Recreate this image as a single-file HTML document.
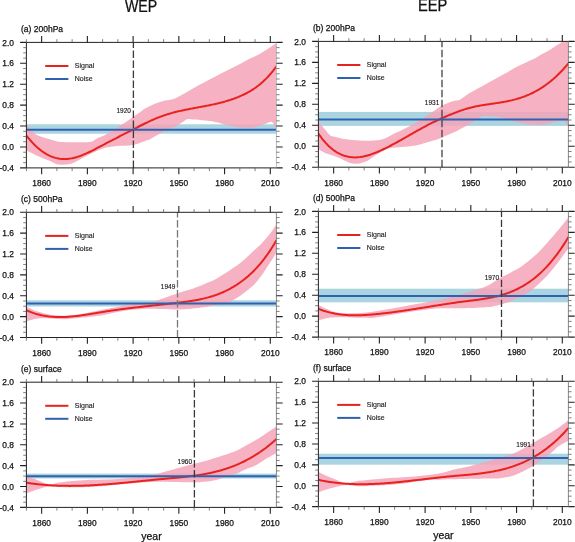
<!DOCTYPE html><html><head><meta charset="utf-8"><style>html,body{margin:0;padding:0;background:#fff;width:575px;height:542px;overflow:hidden}svg{display:block;will-change:transform}text{font-family:"Liberation Sans",sans-serif;stroke:#111;stroke-width:0.25px}</style></head><body>
<svg width="575" height="542" viewBox="0 0 575 542">
<rect x="0" y="0" width="575" height="542" fill="#fff"/>
<text x="0" y="0" font-size="15.7" fill="#111" transform="translate(125.00,11.70) scale(0.902,1)">WEP</text>
<text x="0" y="0" font-size="15.7" fill="#111" transform="translate(417.90,11.00) scale(0.935,1)">EEP</text>
<clipPath id="c0"><rect x="26.40" y="42.40" width="250.00" height="125.50"/></clipPath>
<g clip-path="url(#c0)">
<rect x="26.40" y="124.30" width="250.00" height="9.40" fill="#aad5e0"/>
<path d="M26.40,124.40 C26.92,124.95 28.52,126.58 29.50,127.70 C30.48,128.82 31.37,130.05 32.30,131.10 C33.23,132.15 33.72,133.08 35.10,134.00 C36.48,134.92 38.77,135.88 40.60,136.60 C42.43,137.32 43.87,137.65 46.10,138.30 C48.33,138.95 51.35,139.87 54.00,140.50 C56.65,141.13 57.67,141.82 62.00,142.10 C66.33,142.38 75.17,142.27 80.00,142.20 C84.83,142.13 88.33,142.23 91.00,141.70 C93.67,141.17 94.33,139.82 96.00,139.00 C97.67,138.18 99.33,137.57 101.00,136.80 C102.67,136.03 104.33,135.23 106.00,134.40 C107.67,133.57 109.33,132.73 111.00,131.80 C112.67,130.87 114.50,129.78 116.00,128.80 C117.50,127.82 118.50,126.93 120.00,125.90 C121.50,124.87 123.33,123.70 125.00,122.60 C126.67,121.50 128.62,120.27 130.00,119.30 C131.38,118.33 131.63,117.97 133.30,116.80 C134.97,115.63 138.05,113.67 140.00,112.30 C141.95,110.93 143.33,109.65 145.00,108.60 C146.67,107.55 148.33,106.82 150.00,106.00 C151.67,105.18 153.33,104.37 155.00,103.70 C156.67,103.03 158.33,102.52 160.00,102.00 C161.67,101.48 163.33,100.98 165.00,100.60 C166.67,100.22 168.33,100.07 170.00,99.70 C171.67,99.33 173.72,98.87 175.00,98.40 C176.28,97.93 176.87,97.32 177.70,96.90 C178.53,96.48 177.95,97.02 180.00,95.90 C182.05,94.78 186.67,92.08 190.00,90.20 C193.33,88.32 196.67,86.42 200.00,84.60 C203.33,82.78 206.67,81.07 210.00,79.30 C213.33,77.53 216.67,75.72 220.00,74.00 C223.33,72.28 226.67,70.67 230.00,69.00 C233.33,67.33 236.67,65.73 240.00,64.00 C243.33,62.27 246.67,60.30 250.00,58.60 C253.33,56.90 257.00,55.43 260.00,53.80 C263.00,52.17 265.25,50.58 268.00,48.80 C270.75,47.02 275.00,44.10 276.50,43.10 C278.00,42.10 276.92,42.85 277.00,42.80 L277.00,130.00 C276.80,129.72 276.47,129.45 275.80,128.30 C275.13,127.15 273.87,124.20 273.00,123.10 C272.13,122.00 272.17,121.45 270.60,121.70 C269.03,121.95 266.33,123.65 263.60,124.60 C260.87,125.55 257.33,126.87 254.20,127.40 C251.07,127.93 247.93,127.88 244.80,127.80 C241.67,127.72 238.53,127.37 235.40,126.90 C232.27,126.43 228.90,125.72 226.00,125.00 C223.10,124.28 220.67,123.27 218.00,122.60 C215.33,121.93 213.00,121.43 210.00,121.00 C207.00,120.57 202.75,120.25 200.00,120.00 C197.25,119.75 195.45,119.65 193.50,119.50 C191.55,119.35 189.62,119.02 188.30,119.10 C186.98,119.18 186.92,119.25 185.60,120.00 C184.28,120.75 182.13,122.47 180.40,123.60 C178.67,124.73 176.93,125.97 175.20,126.80 C173.47,127.63 172.20,127.68 170.00,128.60 C167.80,129.52 165.33,130.52 162.00,132.30 C158.67,134.08 152.60,137.95 150.00,139.30 C147.40,140.65 149.22,139.47 146.40,140.40 C143.58,141.33 138.02,143.95 133.10,144.90 C128.18,145.85 122.07,145.45 116.90,146.10 C111.73,146.75 107.58,146.95 102.10,148.80 C96.62,150.65 89.18,154.72 84.00,157.20 C78.82,159.68 75.27,162.48 71.00,163.70 C66.73,164.92 61.90,164.97 58.40,164.50 C54.90,164.03 53.07,162.15 50.00,160.90 C46.93,159.65 43.93,158.73 40.00,157.00 C36.07,155.27 28.67,151.58 26.40,150.50 Z" fill="#f4a5b8" fill-opacity="0.85"/>
<path d="M26.40,135.50 L27.40,136.78 L28.40,138.02 L29.40,139.23 L30.40,140.40 L31.40,141.53 L32.40,142.62 L33.40,143.67 L34.40,144.69 L35.40,145.67 L36.40,146.61 L37.40,147.52 L38.40,148.39 L39.40,149.22 L40.40,150.02 L41.40,150.79 L42.40,151.51 L43.40,152.21 L44.40,152.86 L45.40,153.49 L46.40,154.07 L47.40,154.63 L48.40,155.15 L49.40,155.64 L50.40,156.09 L51.40,156.51 L52.40,156.90 L53.40,157.25 L54.40,157.58 L55.40,157.87 L56.40,158.13 L57.40,158.35 L58.40,158.55 L59.40,158.71 L60.40,158.85 L61.40,158.95 L62.40,159.02 L63.40,159.07 L64.40,159.08 L65.40,159.06 L66.40,159.02 L67.40,158.94 L68.40,158.84 L69.40,158.72 L70.40,158.57 L71.40,158.39 L72.40,158.20 L73.40,157.97 L74.40,157.73 L75.40,157.47 L76.40,157.18 L77.40,156.88 L78.40,156.56 L79.40,156.21 L80.40,155.86 L81.40,155.48 L82.40,155.09 L83.40,154.69 L84.40,154.27 L85.40,153.84 L86.40,153.40 L87.40,152.94 L88.40,152.48 L89.40,152.01 L90.40,151.52 L91.40,151.03 L92.40,150.53 L93.40,150.03 L94.40,149.52 L95.40,149.00 L96.40,148.48 L97.40,147.96 L98.40,147.43 L99.40,146.90 L100.40,146.38 L101.40,145.85 L102.40,145.32 L103.40,144.80 L104.40,144.27 L105.40,143.75 L106.40,143.22 L107.40,142.70 L108.40,142.18 L109.40,141.66 L110.40,141.14 L111.40,140.62 L112.40,140.11 L113.40,139.59 L114.40,139.07 L115.40,138.56 L116.40,138.04 L117.40,137.53 L118.40,137.01 L119.40,136.50 L120.40,135.98 L121.40,135.47 L122.40,134.96 L123.40,134.45 L124.40,133.93 L125.40,133.42 L126.40,132.91 L127.40,132.40 L128.40,131.88 L129.40,131.37 L130.40,130.86 L131.40,130.35 L132.40,129.83 L133.40,129.32 L134.40,128.81 L135.40,128.29 L136.40,127.78 L137.40,127.27 L138.40,126.76 L139.40,126.25 L140.40,125.75 L141.40,125.24 L142.40,124.74 L143.40,124.25 L144.40,123.75 L145.40,123.27 L146.40,122.78 L147.40,122.30 L148.40,121.83 L149.40,121.36 L150.40,120.90 L151.40,120.44 L152.40,119.99 L153.40,119.55 L154.40,119.12 L155.40,118.69 L156.40,118.27 L157.40,117.87 L158.40,117.47 L159.40,117.08 L160.40,116.70 L161.40,116.33 L162.40,115.97 L163.40,115.62 L164.40,115.28 L165.40,114.95 L166.40,114.62 L167.40,114.31 L168.40,114.00 L169.40,113.71 L170.40,113.42 L171.40,113.13 L172.40,112.86 L173.40,112.59 L174.40,112.33 L175.40,112.07 L176.40,111.82 L177.40,111.58 L178.40,111.34 L179.40,111.11 L180.40,110.88 L181.40,110.66 L182.40,110.44 L183.40,110.23 L184.40,110.02 L185.40,109.81 L186.40,109.60 L187.40,109.40 L188.40,109.21 L189.40,109.01 L190.40,108.82 L191.40,108.63 L192.40,108.44 L193.40,108.25 L194.40,108.07 L195.40,107.88 L196.40,107.70 L197.40,107.51 L198.40,107.33 L199.40,107.14 L200.40,106.96 L201.40,106.77 L202.40,106.59 L203.40,106.40 L204.40,106.21 L205.40,106.02 L206.40,105.82 L207.40,105.63 L208.40,105.43 L209.40,105.23 L210.40,105.03 L211.40,104.82 L212.40,104.61 L213.40,104.39 L214.40,104.17 L215.40,103.95 L216.40,103.72 L217.40,103.49 L218.40,103.25 L219.40,103.00 L220.40,102.75 L221.40,102.49 L222.40,102.23 L223.40,101.96 L224.40,101.68 L225.40,101.40 L226.40,101.11 L227.40,100.81 L228.40,100.50 L229.40,100.19 L230.40,99.86 L231.40,99.53 L232.40,99.19 L233.40,98.83 L234.40,98.47 L235.40,98.10 L236.40,97.72 L237.40,97.33 L238.40,96.92 L239.40,96.51 L240.40,96.09 L241.40,95.65 L242.40,95.20 L243.40,94.73 L244.40,94.25 L245.40,93.76 L246.40,93.24 L247.40,92.72 L248.40,92.17 L249.40,91.60 L250.40,91.02 L251.40,90.41 L252.40,89.79 L253.40,89.14 L254.40,88.47 L255.40,87.77 L256.40,87.06 L257.40,86.31 L258.40,85.54 L259.40,84.75 L260.40,83.92 L261.40,83.07 L262.40,82.19 L263.40,81.28 L264.40,80.34 L265.40,79.37 L266.40,78.37 L267.40,77.33 L268.40,76.26 L269.40,75.15 L270.40,74.01 L271.40,72.83 L272.40,71.62 L273.40,70.37 L274.40,69.08 L275.40,67.75 L276.40,66.38 L277.00,65.54" fill="none" stroke="#e8221e" stroke-width="2.0" stroke-linejoin="round"/>
<line x1="26.40" y1="129.75" x2="276.40" y2="129.75" stroke="#3060b0" stroke-width="2"/>
</g>
<line x1="133.40" y1="167.90" x2="133.40" y2="42.40" stroke="#3a3a3a" stroke-width="1.3" stroke-dasharray="7.4 2.6"/>
<text x="130.90" y="113.30" font-size="6.5" fill="#111" text-anchor="end" style="stroke-width:0.12px">1920</text>
<line x1="45.20" y1="66.00" x2="68.40" y2="66.00" stroke="#e8221e" stroke-width="2"/>
<line x1="45.20" y1="79.00" x2="68.40" y2="79.00" stroke="#3060b0" stroke-width="2"/>
<text x="74.80" y="68.00" font-size="7" fill="#222" style="stroke-width:0.12px">Signal</text>
<text x="74.80" y="81.40" font-size="7" fill="#222" style="stroke-width:0.12px">Noise</text>
<g stroke="#222" stroke-width="1" fill="none">
<path d="M26.40,42.40H276.40 M26.40,167.90H276.40 M26.40,42.40V167.90"/>
<path d="M276.40,42.40V167.90" stroke="#bbb"/>
<path d="M41.64,167.90v6.30M41.64,42.40v-6.30M87.38,167.90v6.30M87.38,42.40v-6.30M133.11,167.90v6.30M133.11,42.40v-6.30M178.84,167.90v6.30M178.84,42.40v-6.30M224.57,167.90v6.30M224.57,42.40v-6.30M270.30,167.90v6.30M270.30,42.40v-6.30M26.40,42.40h-6.30M276.40,42.40h6.30M26.40,63.32h-6.30M276.40,63.32h6.30M26.40,84.23h-6.30M276.40,84.23h6.30M26.40,105.15h-6.30M276.40,105.15h6.30M26.40,126.07h-6.30M276.40,126.07h6.30M26.40,146.98h-6.30M276.40,146.98h6.30M26.40,167.90h-6.30M276.40,167.90h6.30" stroke-width="1.1"/>
<path d="M26.40,167.90v3.20M26.40,42.40v-3.20M56.89,167.90v3.20M56.89,42.40v-3.20M72.13,167.90v3.20M72.13,42.40v-3.20M102.62,167.90v3.20M102.62,42.40v-3.20M117.86,167.90v3.20M117.86,42.40v-3.20M148.35,167.90v3.20M148.35,42.40v-3.20M163.60,167.90v3.20M163.60,42.40v-3.20M194.08,167.90v3.20M194.08,42.40v-3.20M209.33,167.90v3.20M209.33,42.40v-3.20M239.81,167.90v3.20M239.81,42.40v-3.20M255.06,167.90v3.20M255.06,42.40v-3.20M26.40,47.63h-3.20M276.40,47.63h3.20M26.40,52.86h-3.20M276.40,52.86h3.20M26.40,58.09h-3.20M276.40,58.09h3.20M26.40,68.55h-3.20M276.40,68.55h3.20M26.40,73.78h-3.20M276.40,73.78h3.20M26.40,79.00h-3.20M276.40,79.00h3.20M26.40,89.46h-3.20M276.40,89.46h3.20M26.40,94.69h-3.20M276.40,94.69h3.20M26.40,99.92h-3.20M276.40,99.92h3.20M26.40,110.38h-3.20M276.40,110.38h3.20M26.40,115.61h-3.20M276.40,115.61h3.20M26.40,120.84h-3.20M276.40,120.84h3.20M26.40,131.30h-3.20M276.40,131.30h3.20M26.40,136.53h-3.20M276.40,136.53h3.20M26.40,141.75h-3.20M276.40,141.75h3.20M26.40,152.21h-3.20M276.40,152.21h3.20M26.40,157.44h-3.20M276.40,157.44h3.20M26.40,162.67h-3.20M276.40,162.67h3.20" stroke="#555" stroke-width="0.75"/>
</g>
<text x="41.64" y="186.20" font-size="8.4" fill="#111" text-anchor="middle">1860</text>
<text x="87.38" y="186.20" font-size="8.4" fill="#111" text-anchor="middle">1890</text>
<text x="133.11" y="186.20" font-size="8.4" fill="#111" text-anchor="middle">1920</text>
<text x="178.84" y="186.20" font-size="8.4" fill="#111" text-anchor="middle">1950</text>
<text x="224.57" y="186.20" font-size="8.4" fill="#111" text-anchor="middle">1980</text>
<text x="270.30" y="186.20" font-size="8.4" fill="#111" text-anchor="middle">2010</text>
<text x="14.00" y="45.50" font-size="8.4" fill="#111" text-anchor="end">2.0</text>
<text x="14.00" y="66.42" font-size="8.4" fill="#111" text-anchor="end">1.6</text>
<text x="14.00" y="87.33" font-size="8.4" fill="#111" text-anchor="end">1.2</text>
<text x="14.00" y="108.25" font-size="8.4" fill="#111" text-anchor="end">0.8</text>
<text x="14.00" y="129.17" font-size="8.4" fill="#111" text-anchor="end">0.4</text>
<text x="14.00" y="150.08" font-size="8.4" fill="#111" text-anchor="end">0.0</text>
<text x="14.00" y="171.00" font-size="8.4" fill="#111" text-anchor="end">-0.4</text>
<text x="21.00" y="31.90" font-size="8.5" fill="#111">(a) 200hPa</text>
<clipPath id="c1"><rect x="318.40" y="41.40" width="250.00" height="125.80"/></clipPath>
<g clip-path="url(#c1)">
<rect x="318.40" y="111.90" width="250.00" height="14.00" fill="#aad5e0"/>
<path d="M318.40,121.30 C318.83,121.83 319.87,123.08 321.00,124.50 C322.13,125.92 323.73,128.07 325.20,129.80 C326.67,131.53 328.25,133.75 329.80,134.90 C331.35,136.05 331.80,135.98 334.50,136.70 C337.20,137.42 341.08,138.53 346.00,139.20 C350.92,139.87 358.33,140.58 364.00,140.70 C369.67,140.82 376.10,140.47 380.00,139.90 C383.90,139.33 384.93,138.42 387.40,137.30 C389.87,136.18 392.35,134.43 394.80,133.20 C397.25,131.97 399.65,131.07 402.10,129.90 C404.55,128.73 407.28,127.32 409.50,126.20 C411.72,125.08 412.98,124.65 415.40,123.20 C417.82,121.75 420.90,119.53 424.00,117.50 C427.10,115.47 430.98,113.00 434.00,111.00 C437.02,109.00 439.25,107.05 442.10,105.50 C444.95,103.95 448.78,102.52 451.10,101.70 C453.42,100.88 454.45,100.98 456.00,100.60 C457.55,100.22 458.73,100.23 460.40,99.40 C462.07,98.57 464.23,96.78 466.00,95.60 C467.77,94.42 469.33,93.33 471.00,92.30 C472.67,91.27 473.50,90.80 476.00,89.40 C478.50,88.00 482.67,85.70 486.00,83.90 C489.33,82.10 492.67,80.42 496.00,78.60 C499.33,76.78 502.67,74.90 506.00,73.00 C509.33,71.10 512.67,68.97 516.00,67.20 C519.33,65.43 522.67,63.98 526.00,62.40 C529.33,60.82 533.17,59.17 536.00,57.70 C538.83,56.23 540.67,54.93 543.00,53.60 C545.33,52.27 548.00,50.90 550.00,49.70 C552.00,48.50 553.33,47.47 555.00,46.40 C556.67,45.33 558.67,44.12 560.00,43.30 C561.33,42.48 561.57,42.33 563.00,41.50 C564.43,40.67 567.67,38.83 568.60,38.30 L568.60,127.00 C568.45,126.82 568.10,126.45 567.70,125.90 C567.30,125.35 566.85,124.58 566.20,123.70 C565.55,122.82 565.23,121.07 563.80,120.60 C562.37,120.13 559.40,120.58 557.60,120.90 C555.80,121.22 554.35,122.07 553.00,122.50 C551.65,122.93 550.95,123.17 549.50,123.50 C548.05,123.83 546.05,124.25 544.30,124.50 C542.55,124.75 540.75,124.95 539.00,125.00 C537.25,125.05 535.97,124.97 533.80,124.80 C531.63,124.63 527.95,124.27 526.00,124.00 C524.05,123.73 523.62,123.55 522.10,123.20 C520.58,122.85 518.65,122.33 516.90,121.90 C515.15,121.47 513.35,121.12 511.60,120.60 C509.85,120.08 508.13,119.32 506.40,118.80 C504.67,118.28 502.93,117.90 501.20,117.50 C499.47,117.10 497.95,116.62 496.00,116.40 C494.05,116.18 491.45,116.28 489.50,116.20 C487.55,116.12 485.62,115.87 484.30,115.90 C482.98,115.93 482.92,115.78 481.60,116.40 C480.28,117.02 478.13,118.50 476.40,119.60 C474.67,120.70 472.93,121.92 471.20,123.00 C469.47,124.08 468.38,124.77 466.00,126.10 C463.62,127.43 459.30,129.80 456.90,131.00 C454.50,132.20 453.35,132.53 451.60,133.30 C449.85,134.07 448.00,134.90 446.40,135.60 C444.80,136.30 443.73,136.80 442.00,137.50 C440.27,138.20 439.67,138.65 436.00,139.80 C432.33,140.95 424.42,143.33 420.00,144.40 C415.58,145.47 412.48,145.78 409.50,146.20 C406.52,146.62 405.18,146.62 402.10,146.90 C399.02,147.18 393.68,147.47 391.00,147.90 C388.32,148.33 388.50,148.30 386.00,149.50 C383.50,150.70 379.00,153.27 376.00,155.10 C373.00,156.93 370.75,159.12 368.00,160.50 C365.25,161.88 362.15,162.92 359.50,163.40 C356.85,163.88 354.35,163.77 352.10,163.40 C349.85,163.03 348.93,162.42 346.00,161.20 C343.07,159.98 337.97,157.48 334.50,156.10 C331.03,154.72 327.88,153.98 325.20,152.90 C322.52,151.82 319.53,150.15 318.40,149.60 Z" fill="#f4a5b8" fill-opacity="0.85"/>
<path d="M318.40,133.59 L319.40,135.03 L320.40,136.42 L321.40,137.75 L322.40,139.04 L323.40,140.27 L324.40,141.45 L325.40,142.59 L326.40,143.67 L327.40,144.71 L328.40,145.70 L329.40,146.65 L330.40,147.54 L331.40,148.40 L332.40,149.21 L333.40,149.98 L334.40,150.70 L335.40,151.38 L336.40,152.03 L337.40,152.63 L338.40,153.19 L339.40,153.71 L340.40,154.20 L341.40,154.64 L342.40,155.06 L343.40,155.43 L344.40,155.77 L345.40,156.07 L346.40,156.35 L347.40,156.58 L348.40,156.79 L349.40,156.96 L350.40,157.11 L351.40,157.22 L352.40,157.30 L353.40,157.36 L354.40,157.38 L355.40,157.38 L356.40,157.36 L357.40,157.30 L358.40,157.23 L359.40,157.12 L360.40,157.00 L361.40,156.85 L362.40,156.68 L363.40,156.49 L364.40,156.27 L365.40,156.04 L366.40,155.79 L367.40,155.52 L368.40,155.23 L369.40,154.92 L370.40,154.60 L371.40,154.26 L372.40,153.91 L373.40,153.54 L374.40,153.16 L375.40,152.77 L376.40,152.36 L377.40,151.95 L378.40,151.52 L379.40,151.08 L380.40,150.64 L381.40,150.18 L382.40,149.72 L383.40,149.25 L384.40,148.77 L385.40,148.29 L386.40,147.80 L387.40,147.30 L388.40,146.79 L389.40,146.28 L390.40,145.76 L391.40,145.24 L392.40,144.71 L393.40,144.18 L394.40,143.64 L395.40,143.10 L396.40,142.55 L397.40,142.00 L398.40,141.45 L399.40,140.89 L400.40,140.33 L401.40,139.77 L402.40,139.21 L403.40,138.64 L404.40,138.07 L405.40,137.50 L406.40,136.93 L407.40,136.36 L408.40,135.79 L409.40,135.22 L410.40,134.65 L411.40,134.08 L412.40,133.51 L413.40,132.94 L414.40,132.37 L415.40,131.80 L416.40,131.24 L417.40,130.68 L418.40,130.12 L419.40,129.56 L420.40,129.01 L421.40,128.46 L422.40,127.91 L423.40,127.37 L424.40,126.83 L425.40,126.30 L426.40,125.77 L427.40,125.24 L428.40,124.73 L429.40,124.21 L430.40,123.71 L431.40,123.20 L432.40,122.71 L433.40,122.22 L434.40,121.73 L435.40,121.25 L436.40,120.78 L437.40,120.31 L438.40,119.84 L439.40,119.38 L440.40,118.93 L441.40,118.48 L442.40,118.03 L443.40,117.59 L444.40,117.15 L445.40,116.72 L446.40,116.29 L447.40,115.87 L448.40,115.45 L449.40,115.04 L450.40,114.63 L451.40,114.22 L452.40,113.82 L453.40,113.42 L454.40,113.03 L455.40,112.64 L456.40,112.25 L457.40,111.87 L458.40,111.50 L459.40,111.13 L460.40,110.77 L461.40,110.42 L462.40,110.07 L463.40,109.74 L464.40,109.41 L465.40,109.09 L466.40,108.79 L467.40,108.49 L468.40,108.21 L469.40,107.93 L470.40,107.67 L471.40,107.42 L472.40,107.18 L473.40,106.95 L474.40,106.73 L475.40,106.51 L476.40,106.30 L477.40,106.11 L478.40,105.91 L479.40,105.73 L480.40,105.55 L481.40,105.38 L482.40,105.21 L483.40,105.05 L484.40,104.89 L485.40,104.73 L486.40,104.58 L487.40,104.43 L488.40,104.28 L489.40,104.14 L490.40,103.99 L491.40,103.85 L492.40,103.71 L493.40,103.56 L494.40,103.42 L495.40,103.27 L496.40,103.13 L497.40,102.98 L498.40,102.82 L499.40,102.67 L500.40,102.51 L501.40,102.35 L502.40,102.18 L503.40,102.01 L504.40,101.83 L505.40,101.64 L506.40,101.45 L507.40,101.26 L508.40,101.05 L509.40,100.84 L510.40,100.61 L511.40,100.38 L512.40,100.14 L513.40,99.89 L514.40,99.64 L515.40,99.37 L516.40,99.09 L517.40,98.80 L518.40,98.50 L519.40,98.19 L520.40,97.86 L521.40,97.53 L522.40,97.18 L523.40,96.82 L524.40,96.45 L525.40,96.07 L526.40,95.67 L527.40,95.26 L528.40,94.83 L529.40,94.40 L530.40,93.94 L531.40,93.48 L532.40,92.99 L533.40,92.50 L534.40,91.98 L535.40,91.46 L536.40,90.91 L537.40,90.35 L538.40,89.77 L539.40,89.18 L540.40,88.57 L541.40,87.94 L542.40,87.29 L543.40,86.63 L544.40,85.95 L545.40,85.25 L546.40,84.53 L547.40,83.79 L548.40,83.03 L549.40,82.25 L550.40,81.46 L551.40,80.64 L552.40,79.80 L553.40,78.94 L554.40,78.06 L555.40,77.16 L556.40,76.24 L557.40,75.29 L558.40,74.32 L559.40,73.33 L560.40,72.32 L561.40,71.28 L562.40,70.22 L563.40,69.14 L564.40,68.03 L565.40,66.90 L566.40,65.75 L567.40,64.57 L568.40,63.36" fill="none" stroke="#e8221e" stroke-width="2.0" stroke-linejoin="round"/>
<line x1="318.40" y1="119.60" x2="568.40" y2="119.60" stroke="#3060b0" stroke-width="2"/>
</g>
<line x1="442.00" y1="167.20" x2="442.00" y2="41.40" stroke="#444" stroke-width="1.3" stroke-dasharray="7.4 2.6"/>
<text x="439.30" y="104.90" font-size="6.5" fill="#111" text-anchor="end" style="stroke-width:0.12px">1931</text>
<line x1="337.20" y1="65.00" x2="360.40" y2="65.00" stroke="#e8221e" stroke-width="2"/>
<line x1="337.20" y1="78.00" x2="360.40" y2="78.00" stroke="#3060b0" stroke-width="2"/>
<text x="366.80" y="67.00" font-size="7" fill="#222" style="stroke-width:0.12px">Signal</text>
<text x="366.80" y="80.40" font-size="7" fill="#222" style="stroke-width:0.12px">Noise</text>
<g stroke="#222" stroke-width="1" fill="none">
<path d="M318.40,41.40H568.40 M318.40,167.20H568.40 M318.40,41.40V167.20"/>
<path d="M568.40,41.40V167.20" stroke="#888"/>
<path d="M333.64,167.20v6.30M333.64,41.40v-6.30M379.38,167.20v6.30M379.38,41.40v-6.30M425.11,167.20v6.30M425.11,41.40v-6.30M470.84,167.20v6.30M470.84,41.40v-6.30M516.57,167.20v6.30M516.57,41.40v-6.30M562.30,167.20v6.30M562.30,41.40v-6.30M318.40,41.40h-6.30M568.40,41.40h6.30M318.40,62.37h-6.30M568.40,62.37h6.30M318.40,83.33h-6.30M568.40,83.33h6.30M318.40,104.30h-6.30M568.40,104.30h6.30M318.40,125.27h-6.30M568.40,125.27h6.30M318.40,146.23h-6.30M568.40,146.23h6.30M318.40,167.20h-6.30M568.40,167.20h6.30" stroke-width="1.1"/>
<path d="M318.40,167.20v3.20M318.40,41.40v-3.20M348.89,167.20v3.20M348.89,41.40v-3.20M364.13,167.20v3.20M364.13,41.40v-3.20M394.62,167.20v3.20M394.62,41.40v-3.20M409.86,167.20v3.20M409.86,41.40v-3.20M440.35,167.20v3.20M440.35,41.40v-3.20M455.60,167.20v3.20M455.60,41.40v-3.20M486.08,167.20v3.20M486.08,41.40v-3.20M501.33,167.20v3.20M501.33,41.40v-3.20M531.81,167.20v3.20M531.81,41.40v-3.20M547.06,167.20v3.20M547.06,41.40v-3.20M318.40,46.64h-3.20M568.40,46.64h3.20M318.40,51.88h-3.20M568.40,51.88h3.20M318.40,57.12h-3.20M568.40,57.12h3.20M318.40,67.61h-3.20M568.40,67.61h3.20M318.40,72.85h-3.20M568.40,72.85h3.20M318.40,78.09h-3.20M568.40,78.09h3.20M318.40,88.57h-3.20M568.40,88.57h3.20M318.40,93.82h-3.20M568.40,93.82h3.20M318.40,99.06h-3.20M568.40,99.06h3.20M318.40,109.54h-3.20M568.40,109.54h3.20M318.40,114.78h-3.20M568.40,114.78h3.20M318.40,120.03h-3.20M568.40,120.03h3.20M318.40,130.51h-3.20M568.40,130.51h3.20M318.40,135.75h-3.20M568.40,135.75h3.20M318.40,140.99h-3.20M568.40,140.99h3.20M318.40,151.47h-3.20M568.40,151.47h3.20M318.40,156.72h-3.20M568.40,156.72h3.20M318.40,161.96h-3.20M568.40,161.96h3.20" stroke="#555" stroke-width="0.75"/>
</g>
<text x="333.64" y="185.50" font-size="8.4" fill="#111" text-anchor="middle">1860</text>
<text x="379.38" y="185.50" font-size="8.4" fill="#111" text-anchor="middle">1890</text>
<text x="425.11" y="185.50" font-size="8.4" fill="#111" text-anchor="middle">1920</text>
<text x="470.84" y="185.50" font-size="8.4" fill="#111" text-anchor="middle">1950</text>
<text x="516.57" y="185.50" font-size="8.4" fill="#111" text-anchor="middle">1980</text>
<text x="562.30" y="185.50" font-size="8.4" fill="#111" text-anchor="middle">2010</text>
<text x="306.00" y="44.50" font-size="8.4" fill="#111" text-anchor="end">2.0</text>
<text x="306.00" y="65.47" font-size="8.4" fill="#111" text-anchor="end">1.6</text>
<text x="306.00" y="86.43" font-size="8.4" fill="#111" text-anchor="end">1.2</text>
<text x="306.00" y="107.40" font-size="8.4" fill="#111" text-anchor="end">0.8</text>
<text x="306.00" y="128.37" font-size="8.4" fill="#111" text-anchor="end">0.4</text>
<text x="306.00" y="149.33" font-size="8.4" fill="#111" text-anchor="end">0.0</text>
<text x="306.00" y="170.30" font-size="8.4" fill="#111" text-anchor="end">-0.4</text>
<text x="313.00" y="30.90" font-size="8.5" fill="#111">(b) 200hPa</text>
<clipPath id="c2"><rect x="26.40" y="212.30" width="250.00" height="125.20"/></clipPath>
<g clip-path="url(#c2)">
<rect x="26.40" y="300.30" width="250.00" height="6.20" fill="#aad5e0"/>
<path d="M26.40,306.40 C28.32,307.27 33.67,310.17 37.90,311.60 C42.13,313.03 47.17,314.32 51.80,315.00 C56.43,315.68 61.07,315.82 65.70,315.70 C70.33,315.58 74.95,314.98 79.60,314.30 C84.25,313.62 89.53,312.40 93.60,311.60 C97.67,310.80 99.60,310.35 104.00,309.50 C108.40,308.65 114.83,307.37 120.00,306.50 C125.17,305.63 130.00,305.00 135.00,304.30 C140.00,303.60 145.50,303.23 150.00,302.30 C154.50,301.37 157.00,300.35 162.00,298.70 C167.00,297.05 175.33,293.95 180.00,292.40 C184.67,290.85 186.67,290.48 190.00,289.40 C193.33,288.32 197.00,287.03 200.00,285.90 C203.00,284.77 205.33,283.77 208.00,282.60 C210.67,281.43 213.33,280.35 216.00,278.90 C218.67,277.45 221.33,275.60 224.00,273.90 C226.67,272.20 229.33,270.47 232.00,268.70 C234.67,266.93 237.75,264.98 240.00,263.30 C242.25,261.62 243.60,260.33 245.50,258.60 C247.40,256.87 249.35,254.82 251.40,252.90 C253.45,250.98 255.95,248.83 257.80,247.10 C259.65,245.37 260.43,244.77 262.50,242.50 C264.57,240.23 267.87,236.55 270.20,233.50 C272.53,230.45 275.45,225.75 276.50,224.20 L276.50,252.50 C275.90,253.47 275.03,254.97 272.90,258.30 C270.77,261.63 266.52,268.48 263.70,272.50 C260.88,276.52 258.05,279.98 256.00,282.40 C253.95,284.82 254.02,284.78 251.40,287.00 C248.78,289.22 244.00,293.20 240.30,295.70 C236.60,298.20 232.90,300.52 229.20,302.00 C225.50,303.48 221.40,303.90 218.10,304.60 C214.80,305.30 212.70,305.65 209.40,306.20 C206.10,306.75 202.02,307.43 198.30,307.90 C194.58,308.37 190.53,308.73 187.10,309.00 C183.67,309.27 181.88,309.50 177.70,309.50 C173.52,309.50 166.62,309.12 162.00,309.00 C157.38,308.88 154.50,308.72 150.00,308.80 C145.50,308.88 140.00,309.05 135.00,309.50 C130.00,309.95 125.17,310.58 120.00,311.50 C114.83,312.42 108.40,314.18 104.00,315.00 C99.60,315.82 97.67,315.93 93.60,316.40 C89.53,316.87 84.25,317.33 79.60,317.80 C74.95,318.27 70.33,319.08 65.70,319.20 C61.07,319.32 56.43,318.62 51.80,318.50 C47.17,318.38 42.13,318.03 37.90,318.50 C33.67,318.97 28.32,320.83 26.40,321.30 Z" fill="#f4a5b8" fill-opacity="0.85"/>
<path d="M26.40,310.25 L27.40,310.70 L28.40,311.13 L29.40,311.54 L30.40,311.93 L31.40,312.31 L32.40,312.67 L33.40,313.02 L34.40,313.34 L35.40,313.66 L36.40,313.95 L37.40,314.24 L38.40,314.50 L39.40,314.75 L40.40,314.99 L41.40,315.21 L42.40,315.42 L43.40,315.62 L44.40,315.80 L45.40,315.97 L46.40,316.12 L47.40,316.27 L48.40,316.40 L49.40,316.51 L50.40,316.62 L51.40,316.72 L52.40,316.80 L53.40,316.87 L54.40,316.93 L55.40,316.98 L56.40,317.02 L57.40,317.05 L58.40,317.07 L59.40,317.08 L60.40,317.08 L61.40,317.07 L62.40,317.05 L63.40,317.03 L64.40,316.99 L65.40,316.95 L66.40,316.90 L67.40,316.84 L68.40,316.77 L69.40,316.70 L70.40,316.62 L71.40,316.54 L72.40,316.44 L73.40,316.34 L74.40,316.24 L75.40,316.13 L76.40,316.02 L77.40,315.89 L78.40,315.77 L79.40,315.64 L80.40,315.51 L81.40,315.37 L82.40,315.23 L83.40,315.08 L84.40,314.93 L85.40,314.78 L86.40,314.63 L87.40,314.47 L88.40,314.31 L89.40,314.15 L90.40,313.99 L91.40,313.82 L92.40,313.66 L93.40,313.49 L94.40,313.32 L95.40,313.16 L96.40,312.99 L97.40,312.82 L98.40,312.65 L99.40,312.49 L100.40,312.32 L101.40,312.15 L102.40,311.99 L103.40,311.83 L104.40,311.67 L105.40,311.51 L106.40,311.35 L107.40,311.20 L108.40,311.05 L109.40,310.90 L110.40,310.75 L111.40,310.60 L112.40,310.46 L113.40,310.31 L114.40,310.17 L115.40,310.03 L116.40,309.89 L117.40,309.75 L118.40,309.62 L119.40,309.48 L120.40,309.35 L121.40,309.22 L122.40,309.09 L123.40,308.96 L124.40,308.83 L125.40,308.70 L126.40,308.58 L127.40,308.45 L128.40,308.33 L129.40,308.21 L130.40,308.09 L131.40,307.97 L132.40,307.85 L133.40,307.73 L134.40,307.61 L135.40,307.50 L136.40,307.38 L137.40,307.26 L138.40,307.15 L139.40,307.04 L140.40,306.92 L141.40,306.81 L142.40,306.70 L143.40,306.59 L144.40,306.47 L145.40,306.36 L146.40,306.25 L147.40,306.14 L148.40,306.03 L149.40,305.92 L150.40,305.81 L151.40,305.71 L152.40,305.60 L153.40,305.49 L154.40,305.38 L155.40,305.27 L156.40,305.16 L157.40,305.05 L158.40,304.94 L159.40,304.83 L160.40,304.72 L161.40,304.62 L162.40,304.51 L163.40,304.40 L164.40,304.28 L165.40,304.17 L166.40,304.06 L167.40,303.95 L168.40,303.84 L169.40,303.73 L170.40,303.61 L171.40,303.50 L172.40,303.38 L173.40,303.27 L174.40,303.15 L175.40,303.04 L176.40,302.92 L177.40,302.80 L178.40,302.68 L179.40,302.56 L180.40,302.44 L181.40,302.32 L182.40,302.19 L183.40,302.06 L184.40,301.93 L185.40,301.80 L186.40,301.67 L187.40,301.53 L188.40,301.38 L189.40,301.24 L190.40,301.09 L191.40,300.93 L192.40,300.77 L193.40,300.61 L194.40,300.44 L195.40,300.26 L196.40,300.08 L197.40,299.90 L198.40,299.70 L199.40,299.50 L200.40,299.30 L201.40,299.08 L202.40,298.86 L203.40,298.63 L204.40,298.40 L205.40,298.15 L206.40,297.90 L207.40,297.64 L208.40,297.36 L209.40,297.08 L210.40,296.79 L211.40,296.49 L212.40,296.18 L213.40,295.86 L214.40,295.53 L215.40,295.19 L216.40,294.83 L217.40,294.47 L218.40,294.09 L219.40,293.70 L220.40,293.30 L221.40,292.89 L222.40,292.46 L223.40,292.02 L224.40,291.57 L225.40,291.10 L226.40,290.62 L227.40,290.12 L228.40,289.61 L229.40,289.09 L230.40,288.55 L231.40,287.99 L232.40,287.42 L233.40,286.83 L234.40,286.23 L235.40,285.61 L236.40,284.97 L237.40,284.32 L238.40,283.65 L239.40,282.96 L240.40,282.25 L241.40,281.53 L242.40,280.79 L243.40,280.02 L244.40,279.24 L245.40,278.44 L246.40,277.61 L247.40,276.77 L248.40,275.90 L249.40,275.01 L250.40,274.10 L251.40,273.16 L252.40,272.20 L253.40,271.21 L254.40,270.20 L255.40,269.16 L256.40,268.09 L257.40,267.00 L258.40,265.88 L259.40,264.73 L260.40,263.56 L261.40,262.35 L262.40,261.12 L263.40,259.85 L264.40,258.55 L265.40,257.22 L266.40,255.86 L267.40,254.47 L268.40,253.04 L269.40,251.58 L270.40,250.08 L271.40,248.55 L272.40,246.99 L273.40,245.38 L274.40,243.75 L275.40,242.07 L276.40,240.36 L276.50,240.18" fill="none" stroke="#e8221e" stroke-width="2.0" stroke-linejoin="round"/>
<line x1="26.40" y1="303.50" x2="276.40" y2="303.50" stroke="#3060b0" stroke-width="2"/>
</g>
<line x1="177.50" y1="337.50" x2="177.50" y2="212.30" stroke="#777" stroke-width="1.3" stroke-dasharray="7.4 2.6"/>
<text x="175.30" y="288.90" font-size="6.5" fill="#111" text-anchor="end" style="stroke-width:0.12px">1949</text>
<line x1="45.20" y1="235.90" x2="68.40" y2="235.90" stroke="#e8221e" stroke-width="2"/>
<line x1="45.20" y1="248.90" x2="68.40" y2="248.90" stroke="#3060b0" stroke-width="2"/>
<text x="74.80" y="237.90" font-size="7" fill="#222" style="stroke-width:0.12px">Signal</text>
<text x="74.80" y="251.30" font-size="7" fill="#222" style="stroke-width:0.12px">Noise</text>
<g stroke="#222" stroke-width="1" fill="none">
<path d="M26.40,212.30H276.40 M26.40,337.50H276.40 M26.40,212.30V337.50"/>
<path d="M276.40,212.30V337.50" stroke="#888"/>
<path d="M41.64,337.50v6.30M41.64,212.30v-6.30M87.38,337.50v6.30M87.38,212.30v-6.30M133.11,337.50v6.30M133.11,212.30v-6.30M178.84,337.50v6.30M178.84,212.30v-6.30M224.57,337.50v6.30M224.57,212.30v-6.30M270.30,337.50v6.30M270.30,212.30v-6.30M26.40,212.30h-6.30M276.40,212.30h6.30M26.40,233.17h-6.30M276.40,233.17h6.30M26.40,254.03h-6.30M276.40,254.03h6.30M26.40,274.90h-6.30M276.40,274.90h6.30M26.40,295.77h-6.30M276.40,295.77h6.30M26.40,316.63h-6.30M276.40,316.63h6.30M26.40,337.50h-6.30M276.40,337.50h6.30" stroke-width="1.1"/>
<path d="M26.40,337.50v3.20M26.40,212.30v-3.20M56.89,337.50v3.20M56.89,212.30v-3.20M72.13,337.50v3.20M72.13,212.30v-3.20M102.62,337.50v3.20M102.62,212.30v-3.20M117.86,337.50v3.20M117.86,212.30v-3.20M148.35,337.50v3.20M148.35,212.30v-3.20M163.60,337.50v3.20M163.60,212.30v-3.20M194.08,337.50v3.20M194.08,212.30v-3.20M209.33,337.50v3.20M209.33,212.30v-3.20M239.81,337.50v3.20M239.81,212.30v-3.20M255.06,337.50v3.20M255.06,212.30v-3.20M26.40,217.52h-3.20M276.40,217.52h3.20M26.40,222.73h-3.20M276.40,222.73h3.20M26.40,227.95h-3.20M276.40,227.95h3.20M26.40,238.38h-3.20M276.40,238.38h3.20M26.40,243.60h-3.20M276.40,243.60h3.20M26.40,248.82h-3.20M276.40,248.82h3.20M26.40,259.25h-3.20M276.40,259.25h3.20M26.40,264.47h-3.20M276.40,264.47h3.20M26.40,269.68h-3.20M276.40,269.68h3.20M26.40,280.12h-3.20M276.40,280.12h3.20M26.40,285.33h-3.20M276.40,285.33h3.20M26.40,290.55h-3.20M276.40,290.55h3.20M26.40,300.98h-3.20M276.40,300.98h3.20M26.40,306.20h-3.20M276.40,306.20h3.20M26.40,311.42h-3.20M276.40,311.42h3.20M26.40,321.85h-3.20M276.40,321.85h3.20M26.40,327.07h-3.20M276.40,327.07h3.20M26.40,332.28h-3.20M276.40,332.28h3.20" stroke="#555" stroke-width="0.75"/>
</g>
<text x="41.64" y="355.80" font-size="8.4" fill="#111" text-anchor="middle">1860</text>
<text x="87.38" y="355.80" font-size="8.4" fill="#111" text-anchor="middle">1890</text>
<text x="133.11" y="355.80" font-size="8.4" fill="#111" text-anchor="middle">1920</text>
<text x="178.84" y="355.80" font-size="8.4" fill="#111" text-anchor="middle">1950</text>
<text x="224.57" y="355.80" font-size="8.4" fill="#111" text-anchor="middle">1980</text>
<text x="270.30" y="355.80" font-size="8.4" fill="#111" text-anchor="middle">2010</text>
<text x="14.00" y="215.40" font-size="8.4" fill="#111" text-anchor="end">2.0</text>
<text x="14.00" y="236.27" font-size="8.4" fill="#111" text-anchor="end">1.6</text>
<text x="14.00" y="257.13" font-size="8.4" fill="#111" text-anchor="end">1.2</text>
<text x="14.00" y="278.00" font-size="8.4" fill="#111" text-anchor="end">0.8</text>
<text x="14.00" y="298.87" font-size="8.4" fill="#111" text-anchor="end">0.4</text>
<text x="14.00" y="319.73" font-size="8.4" fill="#111" text-anchor="end">0.0</text>
<text x="14.00" y="340.60" font-size="8.4" fill="#111" text-anchor="end">-0.4</text>
<text x="21.00" y="201.80" font-size="8.5" fill="#111">(c) 500hPa</text>
<clipPath id="c3"><rect x="318.40" y="211.40" width="250.00" height="125.70"/></clipPath>
<g clip-path="url(#c3)">
<rect x="318.40" y="288.70" width="250.00" height="13.60" fill="#aad5e0"/>
<path d="M318.40,304.70 C320.00,305.50 324.40,308.10 328.00,309.50 C331.60,310.90 334.00,312.57 340.00,313.10 C346.00,313.63 358.00,313.00 364.00,312.70 C370.00,312.40 369.00,312.42 376.00,311.30 C383.00,310.18 396.00,307.80 406.00,306.00 C416.00,304.20 428.33,302.03 436.00,300.50 C443.67,298.97 447.33,297.97 452.00,296.80 C456.67,295.63 460.00,294.65 464.00,293.50 C468.00,292.35 472.00,291.22 476.00,289.90 C480.00,288.58 484.00,287.58 488.00,285.60 C492.00,283.62 496.33,280.12 500.00,278.00 C503.67,275.88 506.67,274.65 510.00,272.90 C513.33,271.15 516.67,269.68 520.00,267.50 C523.33,265.32 526.67,262.58 530.00,259.80 C533.33,257.02 536.67,254.17 540.00,250.80 C543.33,247.43 546.67,243.40 550.00,239.60 C553.33,235.80 556.93,231.68 560.00,228.00 C563.07,224.32 567.00,219.25 568.40,217.50 L568.40,248.50 C568.00,249.00 567.70,249.22 566.00,251.50 C564.30,253.78 560.73,258.88 558.20,262.20 C555.67,265.52 553.27,268.50 550.80,271.40 C548.33,274.30 545.87,277.10 543.40,279.60 C540.93,282.10 538.23,284.47 536.00,286.40 C533.77,288.33 532.67,289.43 530.00,291.20 C527.33,292.97 523.33,295.28 520.00,297.00 C516.67,298.72 513.33,300.22 510.00,301.50 C506.67,302.78 503.67,303.77 500.00,304.70 C496.33,305.63 494.00,306.50 488.00,307.10 C482.00,307.70 472.67,308.07 464.00,308.30 C455.33,308.53 445.67,307.80 436.00,308.50 C426.33,309.20 416.00,311.02 406.00,312.50 C396.00,313.98 383.00,316.52 376.00,317.40 C369.00,318.28 370.00,317.83 364.00,317.80 C358.00,317.77 346.00,317.18 340.00,317.20 C334.00,317.22 331.60,317.38 328.00,317.90 C324.40,318.42 320.00,319.90 318.40,320.30 Z" fill="#f4a5b8" fill-opacity="0.85"/>
<path d="M318.40,308.90 L319.40,309.29 L320.40,309.66 L321.40,310.02 L322.40,310.36 L323.40,310.69 L324.40,311.01 L325.40,311.32 L326.40,311.61 L327.40,311.89 L328.40,312.15 L329.40,312.40 L330.40,312.65 L331.40,312.87 L332.40,313.09 L333.40,313.30 L334.40,313.49 L335.40,313.67 L336.40,313.85 L337.40,314.01 L338.40,314.16 L339.40,314.30 L340.40,314.43 L341.40,314.55 L342.40,314.66 L343.40,314.76 L344.40,314.85 L345.40,314.93 L346.40,315.00 L347.40,315.07 L348.40,315.13 L349.40,315.17 L350.40,315.21 L351.40,315.24 L352.40,315.27 L353.40,315.29 L354.40,315.30 L355.40,315.30 L356.40,315.29 L357.40,315.28 L358.40,315.27 L359.40,315.24 L360.40,315.21 L361.40,315.18 L362.40,315.14 L363.40,315.09 L364.40,315.04 L365.40,314.98 L366.40,314.92 L367.40,314.86 L368.40,314.79 L369.40,314.71 L370.40,314.64 L371.40,314.56 L372.40,314.47 L373.40,314.38 L374.40,314.29 L375.40,314.20 L376.40,314.10 L377.40,314.00 L378.40,313.90 L379.40,313.80 L380.40,313.69 L381.40,313.58 L382.40,313.47 L383.40,313.36 L384.40,313.25 L385.40,313.13 L386.40,313.01 L387.40,312.89 L388.40,312.77 L389.40,312.64 L390.40,312.52 L391.40,312.39 L392.40,312.26 L393.40,312.13 L394.40,311.99 L395.40,311.86 L396.40,311.72 L397.40,311.58 L398.40,311.44 L399.40,311.30 L400.40,311.16 L401.40,311.02 L402.40,310.87 L403.40,310.72 L404.40,310.58 L405.40,310.43 L406.40,310.28 L407.40,310.13 L408.40,309.98 L409.40,309.83 L410.40,309.67 L411.40,309.52 L412.40,309.36 L413.40,309.21 L414.40,309.05 L415.40,308.89 L416.40,308.74 L417.40,308.58 L418.40,308.42 L419.40,308.26 L420.40,308.10 L421.40,307.94 L422.40,307.78 L423.40,307.62 L424.40,307.46 L425.40,307.30 L426.40,307.14 L427.40,306.98 L428.40,306.82 L429.40,306.66 L430.40,306.50 L431.40,306.34 L432.40,306.18 L433.40,306.02 L434.40,305.86 L435.40,305.70 L436.40,305.54 L437.40,305.38 L438.40,305.22 L439.40,305.06 L440.40,304.90 L441.40,304.75 L442.40,304.59 L443.40,304.44 L444.40,304.28 L445.40,304.13 L446.40,303.98 L447.40,303.82 L448.40,303.67 L449.40,303.52 L450.40,303.37 L451.40,303.23 L452.40,303.08 L453.40,302.93 L454.40,302.79 L455.40,302.65 L456.40,302.50 L457.40,302.36 L458.40,302.23 L459.40,302.09 L460.40,301.95 L461.40,301.82 L462.40,301.69 L463.40,301.55 L464.40,301.43 L465.40,301.30 L466.40,301.17 L467.40,301.05 L468.40,300.92 L469.40,300.80 L470.40,300.67 L471.40,300.55 L472.40,300.42 L473.40,300.30 L474.40,300.17 L475.40,300.04 L476.40,299.91 L477.40,299.78 L478.40,299.64 L479.40,299.50 L480.40,299.36 L481.40,299.22 L482.40,299.07 L483.40,298.91 L484.40,298.76 L485.40,298.59 L486.40,298.43 L487.40,298.25 L488.40,298.08 L489.40,297.89 L490.40,297.70 L491.40,297.50 L492.40,297.30 L493.40,297.09 L494.40,296.87 L495.40,296.64 L496.40,296.41 L497.40,296.16 L498.40,295.91 L499.40,295.65 L500.40,295.38 L501.40,295.09 L502.40,294.80 L503.40,294.50 L504.40,294.19 L505.40,293.86 L506.40,293.53 L507.40,293.18 L508.40,292.82 L509.40,292.45 L510.40,292.07 L511.40,291.67 L512.40,291.26 L513.40,290.83 L514.40,290.39 L515.40,289.94 L516.40,289.47 L517.40,288.99 L518.40,288.49 L519.40,287.98 L520.40,287.45 L521.40,286.91 L522.40,286.35 L523.40,285.77 L524.40,285.17 L525.40,284.56 L526.40,283.93 L527.40,283.28 L528.40,282.61 L529.40,281.92 L530.40,281.22 L531.40,280.49 L532.40,279.75 L533.40,278.98 L534.40,278.20 L535.40,277.39 L536.40,276.57 L537.40,275.72 L538.40,274.85 L539.40,273.96 L540.40,273.04 L541.40,272.11 L542.40,271.15 L543.40,270.16 L544.40,269.16 L545.40,268.13 L546.40,267.07 L547.40,265.99 L548.40,264.89 L549.40,263.76 L550.40,262.61 L551.40,261.43 L552.40,260.22 L553.40,258.99 L554.40,257.73 L555.40,256.44 L556.40,255.13 L557.40,253.79 L558.40,252.42 L559.40,251.02 L560.40,249.60 L561.40,248.14 L562.40,246.66 L563.40,245.14 L564.40,243.60 L565.40,242.03 L566.40,240.42 L567.40,238.78 L568.40,237.12" fill="none" stroke="#e8221e" stroke-width="2.0" stroke-linejoin="round"/>
<line x1="318.40" y1="295.90" x2="568.40" y2="295.90" stroke="#3060b0" stroke-width="2"/>
</g>
<line x1="501.50" y1="337.10" x2="501.50" y2="211.40" stroke="#3a3a3a" stroke-width="1.3" stroke-dasharray="7.4 2.6"/>
<text x="499.10" y="279.70" font-size="6.5" fill="#111" text-anchor="end" style="stroke-width:0.12px">1970</text>
<line x1="337.20" y1="235.00" x2="360.40" y2="235.00" stroke="#e8221e" stroke-width="2"/>
<line x1="337.20" y1="248.00" x2="360.40" y2="248.00" stroke="#3060b0" stroke-width="2"/>
<text x="366.80" y="237.00" font-size="7" fill="#222" style="stroke-width:0.12px">Signal</text>
<text x="366.80" y="250.40" font-size="7" fill="#222" style="stroke-width:0.12px">Noise</text>
<g stroke="#222" stroke-width="1" fill="none">
<path d="M318.40,211.40H568.40 M318.40,337.10H568.40 M318.40,211.40V337.10"/>
<path d="M568.40,211.40V337.10" stroke="#888"/>
<path d="M333.64,337.10v6.30M333.64,211.40v-6.30M379.38,337.10v6.30M379.38,211.40v-6.30M425.11,337.10v6.30M425.11,211.40v-6.30M470.84,337.10v6.30M470.84,211.40v-6.30M516.57,337.10v6.30M516.57,211.40v-6.30M562.30,337.10v6.30M562.30,211.40v-6.30M318.40,211.40h-6.30M568.40,211.40h6.30M318.40,232.35h-6.30M568.40,232.35h6.30M318.40,253.30h-6.30M568.40,253.30h6.30M318.40,274.25h-6.30M568.40,274.25h6.30M318.40,295.20h-6.30M568.40,295.20h6.30M318.40,316.15h-6.30M568.40,316.15h6.30M318.40,337.10h-6.30M568.40,337.10h6.30" stroke-width="1.1"/>
<path d="M318.40,337.10v3.20M318.40,211.40v-3.20M348.89,337.10v3.20M348.89,211.40v-3.20M364.13,337.10v3.20M364.13,211.40v-3.20M394.62,337.10v3.20M394.62,211.40v-3.20M409.86,337.10v3.20M409.86,211.40v-3.20M440.35,337.10v3.20M440.35,211.40v-3.20M455.60,337.10v3.20M455.60,211.40v-3.20M486.08,337.10v3.20M486.08,211.40v-3.20M501.33,337.10v3.20M501.33,211.40v-3.20M531.81,337.10v3.20M531.81,211.40v-3.20M547.06,337.10v3.20M547.06,211.40v-3.20M318.40,216.64h-3.20M568.40,216.64h3.20M318.40,221.88h-3.20M568.40,221.88h3.20M318.40,227.11h-3.20M568.40,227.11h3.20M318.40,237.59h-3.20M568.40,237.59h3.20M318.40,242.83h-3.20M568.40,242.83h3.20M318.40,248.06h-3.20M568.40,248.06h3.20M318.40,258.54h-3.20M568.40,258.54h3.20M318.40,263.78h-3.20M568.40,263.78h3.20M318.40,269.01h-3.20M568.40,269.01h3.20M318.40,279.49h-3.20M568.40,279.49h3.20M318.40,284.73h-3.20M568.40,284.73h3.20M318.40,289.96h-3.20M568.40,289.96h3.20M318.40,300.44h-3.20M568.40,300.44h3.20M318.40,305.68h-3.20M568.40,305.68h3.20M318.40,310.91h-3.20M568.40,310.91h3.20M318.40,321.39h-3.20M568.40,321.39h3.20M318.40,326.63h-3.20M568.40,326.63h3.20M318.40,331.86h-3.20M568.40,331.86h3.20" stroke="#555" stroke-width="0.75"/>
</g>
<text x="333.64" y="355.40" font-size="8.4" fill="#111" text-anchor="middle">1860</text>
<text x="379.38" y="355.40" font-size="8.4" fill="#111" text-anchor="middle">1890</text>
<text x="425.11" y="355.40" font-size="8.4" fill="#111" text-anchor="middle">1920</text>
<text x="470.84" y="355.40" font-size="8.4" fill="#111" text-anchor="middle">1950</text>
<text x="516.57" y="355.40" font-size="8.4" fill="#111" text-anchor="middle">1980</text>
<text x="562.30" y="355.40" font-size="8.4" fill="#111" text-anchor="middle">2010</text>
<text x="306.00" y="214.50" font-size="8.4" fill="#111" text-anchor="end">2.0</text>
<text x="306.00" y="235.45" font-size="8.4" fill="#111" text-anchor="end">1.6</text>
<text x="306.00" y="256.40" font-size="8.4" fill="#111" text-anchor="end">1.2</text>
<text x="306.00" y="277.35" font-size="8.4" fill="#111" text-anchor="end">0.8</text>
<text x="306.00" y="298.30" font-size="8.4" fill="#111" text-anchor="end">0.4</text>
<text x="306.00" y="319.25" font-size="8.4" fill="#111" text-anchor="end">0.0</text>
<text x="306.00" y="340.20" font-size="8.4" fill="#111" text-anchor="end">-0.4</text>
<text x="313.00" y="200.90" font-size="8.5" fill="#111">(d) 500hPa</text>
<clipPath id="c4"><rect x="26.40" y="382.20" width="250.00" height="125.20"/></clipPath>
<g clip-path="url(#c4)">
<rect x="26.40" y="473.60" width="250.00" height="4.90" fill="#aad5e0"/>
<path d="M26.40,476.10 C28.32,476.80 34.13,478.90 37.90,480.30 C41.67,481.70 45.52,484.12 49.00,484.50 C52.48,484.88 54.85,483.18 58.80,482.60 C62.75,482.02 68.07,481.43 72.70,481.00 C77.33,480.57 81.38,480.23 86.60,480.00 C91.82,479.77 97.60,479.85 104.00,479.60 C110.40,479.35 117.33,479.20 125.00,478.50 C132.67,477.80 143.83,476.42 150.00,475.40 C156.17,474.38 158.00,473.43 162.00,472.40 C166.00,471.37 168.60,470.63 174.00,469.20 C179.40,467.77 188.23,465.47 194.40,463.80 C200.57,462.13 205.73,460.73 211.00,459.20 C216.27,457.67 222.58,455.70 226.00,454.60 C229.42,453.50 229.17,453.55 231.50,452.60 C233.83,451.65 236.08,450.90 240.00,448.90 C243.92,446.90 250.67,443.17 255.00,440.60 C259.33,438.03 262.42,435.83 266.00,433.50 C269.58,431.17 274.75,427.75 276.50,426.60 L276.50,452.90 C274.75,453.88 269.42,456.75 266.00,458.80 C262.58,460.85 258.98,463.62 256.00,465.20 C253.02,466.78 250.33,467.37 248.10,468.30 C245.87,469.23 244.72,469.83 242.60,470.80 C240.48,471.77 238.17,473.10 235.40,474.10 C232.63,475.10 228.90,475.90 226.00,476.80 C223.10,477.70 220.50,478.82 218.00,479.50 C215.50,480.18 214.93,480.43 211.00,480.90 C207.07,481.37 200.57,482.12 194.40,482.30 C188.23,482.48 181.40,482.05 174.00,482.00 C166.60,481.95 158.17,481.67 150.00,482.00 C141.83,482.33 132.67,483.35 125.00,484.00 C117.33,484.65 110.40,485.40 104.00,485.90 C97.60,486.40 91.82,486.77 86.60,487.00 C81.38,487.23 77.33,487.30 72.70,487.30 C68.07,487.30 62.75,487.13 58.80,487.00 C54.85,486.87 52.48,486.12 49.00,486.50 C45.52,486.88 41.67,488.13 37.90,489.30 C34.13,490.47 28.32,492.80 26.40,493.50 Z" fill="#f4a5b8" fill-opacity="0.85"/>
<path d="M26.40,482.69 L27.40,482.84 L28.40,483.00 L29.40,483.15 L30.40,483.29 L31.40,483.43 L32.40,483.56 L33.40,483.70 L34.40,483.82 L35.40,483.95 L36.40,484.06 L37.40,484.18 L38.40,484.29 L39.40,484.39 L40.40,484.50 L41.40,484.59 L42.40,484.69 L43.40,484.78 L44.40,484.86 L45.40,484.95 L46.40,485.02 L47.40,485.10 L48.40,485.17 L49.40,485.24 L50.40,485.30 L51.40,485.36 L52.40,485.42 L53.40,485.47 L54.40,485.52 L55.40,485.57 L56.40,485.61 L57.40,485.65 L58.40,485.69 L59.40,485.72 L60.40,485.75 L61.40,485.78 L62.40,485.80 L63.40,485.82 L64.40,485.84 L65.40,485.85 L66.40,485.86 L67.40,485.87 L68.40,485.87 L69.40,485.88 L70.40,485.88 L71.40,485.87 L72.40,485.87 L73.40,485.86 L74.40,485.85 L75.40,485.83 L76.40,485.81 L77.40,485.80 L78.40,485.77 L79.40,485.75 L80.40,485.72 L81.40,485.69 L82.40,485.66 L83.40,485.63 L84.40,485.59 L85.40,485.55 L86.40,485.51 L87.40,485.47 L88.40,485.43 L89.40,485.38 L90.40,485.33 L91.40,485.28 L92.40,485.22 L93.40,485.17 L94.40,485.11 L95.40,485.05 L96.40,484.99 L97.40,484.93 L98.40,484.87 L99.40,484.80 L100.40,484.73 L101.40,484.67 L102.40,484.60 L103.40,484.52 L104.40,484.45 L105.40,484.38 L106.40,484.30 L107.40,484.22 L108.40,484.14 L109.40,484.06 L110.40,483.98 L111.40,483.90 L112.40,483.81 L113.40,483.73 L114.40,483.64 L115.40,483.55 L116.40,483.47 L117.40,483.38 L118.40,483.29 L119.40,483.20 L120.40,483.10 L121.40,483.01 L122.40,482.92 L123.40,482.82 L124.40,482.73 L125.40,482.63 L126.40,482.54 L127.40,482.44 L128.40,482.34 L129.40,482.25 L130.40,482.15 L131.40,482.05 L132.40,481.95 L133.40,481.85 L134.40,481.75 L135.40,481.65 L136.40,481.55 L137.40,481.45 L138.40,481.35 L139.40,481.25 L140.40,481.15 L141.40,481.05 L142.40,480.95 L143.40,480.85 L144.40,480.75 L145.40,480.65 L146.40,480.55 L147.40,480.45 L148.40,480.35 L149.40,480.25 L150.40,480.15 L151.40,480.05 L152.40,479.95 L153.40,479.85 L154.40,479.76 L155.40,479.66 L156.40,479.56 L157.40,479.47 L158.40,479.37 L159.40,479.28 L160.40,479.19 L161.40,479.09 L162.40,479.00 L163.40,478.91 L164.40,478.82 L165.40,478.73 L166.40,478.64 L167.40,478.55 L168.40,478.46 L169.40,478.37 L170.40,478.28 L171.40,478.19 L172.40,478.10 L173.40,478.01 L174.40,477.92 L175.40,477.83 L176.40,477.74 L177.40,477.64 L178.40,477.54 L179.40,477.45 L180.40,477.35 L181.40,477.25 L182.40,477.14 L183.40,477.04 L184.40,476.93 L185.40,476.82 L186.40,476.71 L187.40,476.60 L188.40,476.48 L189.40,476.36 L190.40,476.24 L191.40,476.11 L192.40,475.98 L193.40,475.85 L194.40,475.71 L195.40,475.57 L196.40,475.43 L197.40,475.28 L198.40,475.13 L199.40,474.97 L200.40,474.81 L201.40,474.65 L202.40,474.48 L203.40,474.30 L204.40,474.12 L205.40,473.94 L206.40,473.75 L207.40,473.55 L208.40,473.35 L209.40,473.15 L210.40,472.93 L211.40,472.72 L212.40,472.49 L213.40,472.26 L214.40,472.02 L215.40,471.78 L216.40,471.53 L217.40,471.27 L218.40,471.01 L219.40,470.74 L220.40,470.46 L221.40,470.17 L222.40,469.88 L223.40,469.58 L224.40,469.27 L225.40,468.95 L226.40,468.63 L227.40,468.30 L228.40,467.96 L229.40,467.61 L230.40,467.25 L231.40,466.88 L232.40,466.50 L233.40,466.12 L234.40,465.73 L235.40,465.32 L236.40,464.91 L237.40,464.49 L238.40,464.05 L239.40,463.61 L240.40,463.16 L241.40,462.70 L242.40,462.23 L243.40,461.74 L244.40,461.25 L245.40,460.74 L246.40,460.23 L247.40,459.70 L248.40,459.16 L249.40,458.62 L250.40,458.06 L251.40,457.48 L252.40,456.90 L253.40,456.31 L254.40,455.70 L255.40,455.08 L256.40,454.45 L257.40,453.80 L258.40,453.15 L259.40,452.48 L260.40,451.79 L261.40,451.10 L262.40,450.39 L263.40,449.67 L264.40,448.93 L265.40,448.19 L266.40,447.42 L267.40,446.65 L268.40,445.86 L269.40,445.05 L270.40,444.24 L271.40,443.40 L272.40,442.56 L273.40,441.69 L274.40,440.82 L275.40,439.93 L276.40,439.02 L276.50,438.93" fill="none" stroke="#e8221e" stroke-width="2.0" stroke-linejoin="round"/>
<line x1="26.40" y1="476.20" x2="276.40" y2="476.20" stroke="#3060b0" stroke-width="2"/>
</g>
<line x1="194.40" y1="507.40" x2="194.40" y2="382.20" stroke="#3a3a3a" stroke-width="1.3" stroke-dasharray="7.4 2.6"/>
<text x="192.00" y="463.60" font-size="6.5" fill="#111" text-anchor="end" style="stroke-width:0.12px">1960</text>
<line x1="45.20" y1="405.80" x2="68.40" y2="405.80" stroke="#e8221e" stroke-width="2"/>
<line x1="45.20" y1="418.80" x2="68.40" y2="418.80" stroke="#3060b0" stroke-width="2"/>
<text x="74.80" y="407.80" font-size="7" fill="#222" style="stroke-width:0.12px">Signal</text>
<text x="74.80" y="421.20" font-size="7" fill="#222" style="stroke-width:0.12px">Noise</text>
<g stroke="#222" stroke-width="1" fill="none">
<path d="M26.40,382.20H276.40 M26.40,507.40H276.40 M26.40,382.20V507.40"/>
<path d="M276.40,382.20V507.40" stroke="#888"/>
<path d="M41.64,507.40v6.30M41.64,382.20v-6.30M87.38,507.40v6.30M87.38,382.20v-6.30M133.11,507.40v6.30M133.11,382.20v-6.30M178.84,507.40v6.30M178.84,382.20v-6.30M224.57,507.40v6.30M224.57,382.20v-6.30M270.30,507.40v6.30M270.30,382.20v-6.30M26.40,382.20h-6.30M276.40,382.20h6.30M26.40,403.07h-6.30M276.40,403.07h6.30M26.40,423.93h-6.30M276.40,423.93h6.30M26.40,444.80h-6.30M276.40,444.80h6.30M26.40,465.67h-6.30M276.40,465.67h6.30M26.40,486.53h-6.30M276.40,486.53h6.30M26.40,507.40h-6.30M276.40,507.40h6.30" stroke-width="1.1"/>
<path d="M26.40,507.40v3.20M26.40,382.20v-3.20M56.89,507.40v3.20M56.89,382.20v-3.20M72.13,507.40v3.20M72.13,382.20v-3.20M102.62,507.40v3.20M102.62,382.20v-3.20M117.86,507.40v3.20M117.86,382.20v-3.20M148.35,507.40v3.20M148.35,382.20v-3.20M163.60,507.40v3.20M163.60,382.20v-3.20M194.08,507.40v3.20M194.08,382.20v-3.20M209.33,507.40v3.20M209.33,382.20v-3.20M239.81,507.40v3.20M239.81,382.20v-3.20M255.06,507.40v3.20M255.06,382.20v-3.20M26.40,387.42h-3.20M276.40,387.42h3.20M26.40,392.63h-3.20M276.40,392.63h3.20M26.40,397.85h-3.20M276.40,397.85h3.20M26.40,408.28h-3.20M276.40,408.28h3.20M26.40,413.50h-3.20M276.40,413.50h3.20M26.40,418.72h-3.20M276.40,418.72h3.20M26.40,429.15h-3.20M276.40,429.15h3.20M26.40,434.37h-3.20M276.40,434.37h3.20M26.40,439.58h-3.20M276.40,439.58h3.20M26.40,450.02h-3.20M276.40,450.02h3.20M26.40,455.23h-3.20M276.40,455.23h3.20M26.40,460.45h-3.20M276.40,460.45h3.20M26.40,470.88h-3.20M276.40,470.88h3.20M26.40,476.10h-3.20M276.40,476.10h3.20M26.40,481.32h-3.20M276.40,481.32h3.20M26.40,491.75h-3.20M276.40,491.75h3.20M26.40,496.97h-3.20M276.40,496.97h3.20M26.40,502.18h-3.20M276.40,502.18h3.20" stroke="#555" stroke-width="0.75"/>
</g>
<text x="41.64" y="525.70" font-size="8.4" fill="#111" text-anchor="middle">1860</text>
<text x="87.38" y="525.70" font-size="8.4" fill="#111" text-anchor="middle">1890</text>
<text x="133.11" y="525.70" font-size="8.4" fill="#111" text-anchor="middle">1920</text>
<text x="178.84" y="525.70" font-size="8.4" fill="#111" text-anchor="middle">1950</text>
<text x="224.57" y="525.70" font-size="8.4" fill="#111" text-anchor="middle">1980</text>
<text x="270.30" y="525.70" font-size="8.4" fill="#111" text-anchor="middle">2010</text>
<text x="14.00" y="385.30" font-size="8.4" fill="#111" text-anchor="end">2.0</text>
<text x="14.00" y="406.17" font-size="8.4" fill="#111" text-anchor="end">1.6</text>
<text x="14.00" y="427.03" font-size="8.4" fill="#111" text-anchor="end">1.2</text>
<text x="14.00" y="447.90" font-size="8.4" fill="#111" text-anchor="end">0.8</text>
<text x="14.00" y="468.77" font-size="8.4" fill="#111" text-anchor="end">0.4</text>
<text x="14.00" y="489.63" font-size="8.4" fill="#111" text-anchor="end">0.0</text>
<text x="14.00" y="510.50" font-size="8.4" fill="#111" text-anchor="end">-0.4</text>
<text x="21.00" y="371.70" font-size="8.5" fill="#111">(e) surface</text>
<clipPath id="c5"><rect x="318.40" y="381.30" width="250.00" height="125.30"/></clipPath>
<g clip-path="url(#c5)">
<rect x="318.40" y="453.70" width="250.00" height="11.00" fill="#aad5e0"/>
<path d="M318.40,472.00 C320.00,472.75 324.73,475.08 328.00,476.50 C331.27,477.92 334.93,479.38 338.00,480.50 C341.07,481.62 342.97,483.15 346.40,483.20 C349.83,483.25 353.67,481.47 358.60,480.80 C363.53,480.13 371.43,479.63 376.00,479.20 C380.57,478.77 382.00,478.47 386.00,478.20 C390.00,477.93 395.17,477.88 400.00,477.60 C404.83,477.32 410.00,476.97 415.00,476.50 C420.00,476.03 425.83,475.33 430.00,474.80 C434.17,474.27 436.67,473.97 440.00,473.30 C443.33,472.63 448.00,471.35 450.00,470.80 C452.00,470.25 449.67,470.53 452.00,470.00 C454.33,469.47 460.00,468.53 464.00,467.60 C468.00,466.67 472.00,465.45 476.00,464.40 C480.00,463.35 484.00,462.43 488.00,461.30 C492.00,460.17 495.85,458.87 500.00,457.60 C504.15,456.33 508.60,455.42 512.90,453.70 C517.20,451.98 522.40,449.12 525.80,447.30 C529.20,445.48 531.15,444.10 533.30,442.80 C535.45,441.50 536.25,440.93 538.70,439.50 C541.15,438.07 544.77,436.13 548.00,434.20 C551.23,432.27 554.70,430.23 558.10,427.90 C561.50,425.57 566.68,421.48 568.40,420.20 L568.40,440.80 C566.68,441.77 560.88,444.65 558.10,446.60 C555.32,448.55 554.93,449.92 551.70,452.50 C548.47,455.08 541.77,459.85 538.70,462.10 C535.63,464.35 535.45,464.70 533.30,466.00 C531.15,467.30 529.20,468.28 525.80,469.90 C522.40,471.52 517.20,474.30 512.90,475.70 C508.60,477.10 504.15,477.82 500.00,478.30 C495.85,478.78 494.00,478.48 488.00,478.60 C482.00,478.72 470.33,478.88 464.00,479.00 C457.67,479.12 454.00,479.18 450.00,479.30 C446.00,479.42 443.33,479.60 440.00,479.70 C436.67,479.80 434.17,479.55 430.00,479.90 C425.83,480.25 420.00,481.12 415.00,481.80 C410.00,482.48 404.83,483.45 400.00,484.00 C395.17,484.55 390.00,484.83 386.00,485.10 C382.00,485.37 380.57,485.40 376.00,485.60 C371.43,485.80 363.53,486.40 358.60,486.30 C353.67,486.20 349.83,484.97 346.40,485.00 C342.97,485.03 341.07,485.83 338.00,486.50 C334.93,487.17 331.27,488.02 328.00,489.00 C324.73,489.98 320.00,491.83 318.40,492.40 Z" fill="#f4a5b8" fill-opacity="0.85"/>
<path d="M318.40,479.84 L319.40,480.06 L320.40,480.27 L321.40,480.48 L322.40,480.68 L323.40,480.87 L324.40,481.06 L325.40,481.24 L326.40,481.42 L327.40,481.59 L328.40,481.75 L329.40,481.91 L330.40,482.06 L331.40,482.21 L332.40,482.35 L333.40,482.48 L334.40,482.61 L335.40,482.73 L336.40,482.85 L337.40,482.97 L338.40,483.07 L339.40,483.17 L340.40,483.27 L341.40,483.36 L342.40,483.45 L343.40,483.53 L344.40,483.61 L345.40,483.68 L346.40,483.75 L347.40,483.81 L348.40,483.86 L349.40,483.92 L350.40,483.97 L351.40,484.01 L352.40,484.05 L353.40,484.08 L354.40,484.11 L355.40,484.14 L356.40,484.16 L357.40,484.18 L358.40,484.19 L359.40,484.20 L360.40,484.21 L361.40,484.21 L362.40,484.21 L363.40,484.20 L364.40,484.19 L365.40,484.18 L366.40,484.16 L367.40,484.14 L368.40,484.12 L369.40,484.09 L370.40,484.06 L371.40,484.02 L372.40,483.99 L373.40,483.95 L374.40,483.90 L375.40,483.86 L376.40,483.81 L377.40,483.76 L378.40,483.70 L379.40,483.64 L380.40,483.58 L381.40,483.52 L382.40,483.45 L383.40,483.38 L384.40,483.31 L385.40,483.24 L386.40,483.16 L387.40,483.09 L388.40,483.01 L389.40,482.92 L390.40,482.84 L391.40,482.75 L392.40,482.66 L393.40,482.57 L394.40,482.48 L395.40,482.39 L396.40,482.29 L397.40,482.20 L398.40,482.10 L399.40,482.00 L400.40,481.90 L401.40,481.79 L402.40,481.69 L403.40,481.58 L404.40,481.47 L405.40,481.37 L406.40,481.26 L407.40,481.15 L408.40,481.04 L409.40,480.92 L410.40,480.81 L411.40,480.70 L412.40,480.58 L413.40,480.47 L414.40,480.35 L415.40,480.24 L416.40,480.12 L417.40,480.00 L418.40,479.88 L419.40,479.77 L420.40,479.65 L421.40,479.53 L422.40,479.41 L423.40,479.29 L424.40,479.18 L425.40,479.06 L426.40,478.94 L427.40,478.82 L428.40,478.71 L429.40,478.59 L430.40,478.47 L431.40,478.36 L432.40,478.24 L433.40,478.13 L434.40,478.01 L435.40,477.90 L436.40,477.79 L437.40,477.67 L438.40,477.56 L439.40,477.45 L440.40,477.34 L441.40,477.24 L442.40,477.13 L443.40,477.02 L444.40,476.92 L445.40,476.82 L446.40,476.72 L447.40,476.62 L448.40,476.52 L449.40,476.42 L450.40,476.33 L451.40,476.23 L452.40,476.14 L453.40,476.05 L454.40,475.96 L455.40,475.87 L456.40,475.78 L457.40,475.70 L458.40,475.61 L459.40,475.52 L460.40,475.43 L461.40,475.35 L462.40,475.26 L463.40,475.17 L464.40,475.08 L465.40,475.00 L466.40,474.91 L467.40,474.81 L468.40,474.72 L469.40,474.63 L470.40,474.53 L471.40,474.43 L472.40,474.33 L473.40,474.23 L474.40,474.13 L475.40,474.02 L476.40,473.91 L477.40,473.79 L478.40,473.68 L479.40,473.56 L480.40,473.44 L481.40,473.31 L482.40,473.18 L483.40,473.04 L484.40,472.90 L485.40,472.76 L486.40,472.61 L487.40,472.46 L488.40,472.30 L489.40,472.14 L490.40,471.97 L491.40,471.80 L492.40,471.62 L493.40,471.43 L494.40,471.24 L495.40,471.05 L496.40,470.84 L497.40,470.63 L498.40,470.42 L499.40,470.19 L500.40,469.96 L501.40,469.73 L502.40,469.48 L503.40,469.23 L504.40,468.97 L505.40,468.70 L506.40,468.42 L507.40,468.14 L508.40,467.84 L509.40,467.54 L510.40,467.23 L511.40,466.91 L512.40,466.58 L513.40,466.25 L514.40,465.90 L515.40,465.54 L516.40,465.17 L517.40,464.80 L518.40,464.41 L519.40,464.01 L520.40,463.60 L521.40,463.18 L522.40,462.75 L523.40,462.31 L524.40,461.86 L525.40,461.39 L526.40,460.92 L527.40,460.43 L528.40,459.93 L529.40,459.42 L530.40,458.89 L531.40,458.36 L532.40,457.81 L533.40,457.25 L534.40,456.67 L535.40,456.08 L536.40,455.48 L537.40,454.86 L538.40,454.23 L539.40,453.59 L540.40,452.93 L541.40,452.26 L542.40,451.57 L543.40,450.87 L544.40,450.16 L545.40,449.43 L546.40,448.68 L547.40,447.92 L548.40,447.14 L549.40,446.35 L550.40,445.54 L551.40,444.72 L552.40,443.88 L553.40,443.02 L554.40,442.14 L555.40,441.25 L556.40,440.34 L557.40,439.42 L558.40,438.48 L559.40,437.52 L560.40,436.54 L561.40,435.55 L562.40,434.53 L563.40,433.50 L564.40,432.45 L565.40,431.38 L566.40,430.29 L567.40,429.19 L568.40,428.06" fill="none" stroke="#e8221e" stroke-width="2.0" stroke-linejoin="round"/>
<line x1="318.40" y1="458.10" x2="568.40" y2="458.10" stroke="#3060b0" stroke-width="2"/>
</g>
<line x1="533.40" y1="506.60" x2="533.40" y2="381.30" stroke="#3a3a3a" stroke-width="1.3" stroke-dasharray="7.4 2.6"/>
<text x="530.80" y="446.90" font-size="6.5" fill="#111" text-anchor="end" style="stroke-width:0.12px">1991</text>
<line x1="337.20" y1="404.90" x2="360.40" y2="404.90" stroke="#e8221e" stroke-width="2"/>
<line x1="337.20" y1="417.90" x2="360.40" y2="417.90" stroke="#3060b0" stroke-width="2"/>
<text x="366.80" y="406.90" font-size="7" fill="#222" style="stroke-width:0.12px">Signal</text>
<text x="366.80" y="420.30" font-size="7" fill="#222" style="stroke-width:0.12px">Noise</text>
<g stroke="#222" stroke-width="1" fill="none">
<path d="M318.40,381.30H568.40 M318.40,506.60H568.40 M318.40,381.30V506.60"/>
<path d="M568.40,381.30V506.60" stroke="#888"/>
<path d="M333.64,506.60v6.30M333.64,381.30v-6.30M379.38,506.60v6.30M379.38,381.30v-6.30M425.11,506.60v6.30M425.11,381.30v-6.30M470.84,506.60v6.30M470.84,381.30v-6.30M516.57,506.60v6.30M516.57,381.30v-6.30M562.30,506.60v6.30M562.30,381.30v-6.30M318.40,381.30h-6.30M568.40,381.30h6.30M318.40,402.18h-6.30M568.40,402.18h6.30M318.40,423.07h-6.30M568.40,423.07h6.30M318.40,443.95h-6.30M568.40,443.95h6.30M318.40,464.83h-6.30M568.40,464.83h6.30M318.40,485.72h-6.30M568.40,485.72h6.30M318.40,506.60h-6.30M568.40,506.60h6.30" stroke-width="1.1"/>
<path d="M318.40,506.60v3.20M318.40,381.30v-3.20M348.89,506.60v3.20M348.89,381.30v-3.20M364.13,506.60v3.20M364.13,381.30v-3.20M394.62,506.60v3.20M394.62,381.30v-3.20M409.86,506.60v3.20M409.86,381.30v-3.20M440.35,506.60v3.20M440.35,381.30v-3.20M455.60,506.60v3.20M455.60,381.30v-3.20M486.08,506.60v3.20M486.08,381.30v-3.20M501.33,506.60v3.20M501.33,381.30v-3.20M531.81,506.60v3.20M531.81,381.30v-3.20M547.06,506.60v3.20M547.06,381.30v-3.20M318.40,386.52h-3.20M568.40,386.52h3.20M318.40,391.74h-3.20M568.40,391.74h3.20M318.40,396.96h-3.20M568.40,396.96h3.20M318.40,407.40h-3.20M568.40,407.40h3.20M318.40,412.62h-3.20M568.40,412.62h3.20M318.40,417.85h-3.20M568.40,417.85h3.20M318.40,428.29h-3.20M568.40,428.29h3.20M318.40,433.51h-3.20M568.40,433.51h3.20M318.40,438.73h-3.20M568.40,438.73h3.20M318.40,449.17h-3.20M568.40,449.17h3.20M318.40,454.39h-3.20M568.40,454.39h3.20M318.40,459.61h-3.20M568.40,459.61h3.20M318.40,470.05h-3.20M568.40,470.05h3.20M318.40,475.28h-3.20M568.40,475.28h3.20M318.40,480.50h-3.20M568.40,480.50h3.20M318.40,490.94h-3.20M568.40,490.94h3.20M318.40,496.16h-3.20M568.40,496.16h3.20M318.40,501.38h-3.20M568.40,501.38h3.20" stroke="#555" stroke-width="0.75"/>
</g>
<text x="333.64" y="524.90" font-size="8.4" fill="#111" text-anchor="middle">1860</text>
<text x="379.38" y="524.90" font-size="8.4" fill="#111" text-anchor="middle">1890</text>
<text x="425.11" y="524.90" font-size="8.4" fill="#111" text-anchor="middle">1920</text>
<text x="470.84" y="524.90" font-size="8.4" fill="#111" text-anchor="middle">1950</text>
<text x="516.57" y="524.90" font-size="8.4" fill="#111" text-anchor="middle">1980</text>
<text x="562.30" y="524.90" font-size="8.4" fill="#111" text-anchor="middle">2010</text>
<text x="306.00" y="384.40" font-size="8.4" fill="#111" text-anchor="end">2.0</text>
<text x="306.00" y="405.28" font-size="8.4" fill="#111" text-anchor="end">1.6</text>
<text x="306.00" y="426.17" font-size="8.4" fill="#111" text-anchor="end">1.2</text>
<text x="306.00" y="447.05" font-size="8.4" fill="#111" text-anchor="end">0.8</text>
<text x="306.00" y="467.93" font-size="8.4" fill="#111" text-anchor="end">0.4</text>
<text x="306.00" y="488.82" font-size="8.4" fill="#111" text-anchor="end">0.0</text>
<text x="306.00" y="509.70" font-size="8.4" fill="#111" text-anchor="end">-0.4</text>
<text x="313.00" y="370.80" font-size="8.5" fill="#111">(f) surface</text>
<text x="151.5" y="539.5" font-size="10.5" fill="#111" text-anchor="middle">year</text>
<text x="443.4" y="538.6" font-size="10.5" fill="#111" text-anchor="middle">year</text>
</svg></body></html>
